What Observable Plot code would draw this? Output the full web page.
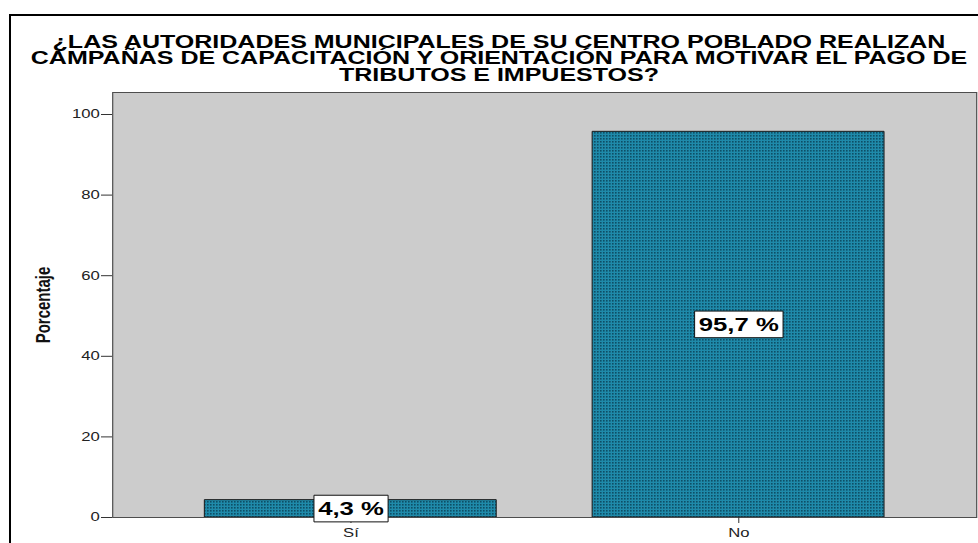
<!DOCTYPE html>
<html>
<head>
<meta charset="utf-8">
<script src="https://cdn.jsdelivr.net/npm/d3@7"></script>
<script src="https://cdn.jsdelivr.net/npm/@observablehq/plot@0.6"></script>
<style>
  html, body { margin: 0; padding: 0; background: white; overflow: hidden; }
</style>
</head>
<body>
<script>
// ---- data ----
const categories = ["Sí", "No"];
const percentages = [4.3, 95.7];
const valueLabels = ["4,3 %", "95,7 %"];
const yTicks = [0, 20, 40, 60, 80, 100];
const yLabel = "Porcentaje";
const titleLines = [
  "¿LAS AUTORIDADES MUNICIPALES DE SU CENTRO POBLADO REALIZAN",
  "CAMPAÑAS DE CAPACITACIÓN Y ORIENTACIÓN PARA MOTIVAR EL PAGO DE",
  "TRIBUTOS E IMPUESTOS?"
];

// ---- layout (the reference is horizontally stretched) ----
const K = 1.39;
const W = 978 / K, H = 543;

const data = categories.map((c, i) => ({cat: c, pct: percentages[i], label: valueLabels[i]}));

const plot = Plot.plot({
  width: W,
  height: H,
  marginLeft: 112 / K,
  marginRight: 2 / K,
  marginTop: 92,
  marginBottom: 26,
  style: {fontFamily: "'Liberation Sans', Arial, sans-serif", background: "white", color: "#222", overflow: "visible"},
  x: {domain: categories, paddingInner: 0.247, paddingOuter: 0.234},
  y: {domain: [0, 105.46]},
  marks: [
    Plot.frame({fill: "#cccccc", stroke: "none"}),
    Plot.barY(data, {x: "cat", y: "pct", fill: "url(#dots)", stroke: "#1a1a1a", strokeWidth: 1}),
    Plot.frame({stroke: "#4d4d4d", strokeWidth: 1.2}),
    Plot.axisY({ticks: yTicks, tickSize: 11 / K, tickPadding: 2 / K, fontSize: 12, stroke: "#333",
      label: yLabel, labelAnchor: "center", labelArrow: false, labelOffset: 56}),
    Plot.axisX({tickSize: 6, tickPadding: 5, fontSize: 12, stroke: "#333", label: null}),
    Plot.text(data, {x: "cat", y: d => d.pct / 2, text: "label", fontSize: 18.5, fontWeight: "bold",
      fill: "black", className: "bar-label"})
  ]
});

plot.setAttribute("width", 978);
plot.setAttribute("height", 543);
plot.setAttribute("preserveAspectRatio", "none");
plot.style.width = "978px";
plot.style.height = "543px";
plot.style.maxWidth = "none";
plot.style.display = "block";
document.body.appendChild(plot);

const svg = d3.select(plot);

// dotted fill pattern
const defs = svg.insert("defs", ":first-child");
const pat = defs.append("pattern").attr("id", "dots").attr("patternUnits", "userSpaceOnUse")
  .attr("width", 3 / K).attr("height", 3);
pat.append("rect").attr("width", 3 / K).attr("height", 3).attr("fill", "#1f8aaa");
pat.append("rect").attr("width", 1.6 / K).attr("height", 1.6).attr("fill", "#0d4f66");

// outer border
svg.append("rect").attr("x", 10 / K).attr("y", 15).attr("width", W + 50).attr("height", H + 50)
  .attr("fill", "none").attr("stroke", "black").attr("stroke-width", 2);

// title
const tg = svg.append("g").attr("font-family", "'Liberation Sans', Arial, sans-serif")
  .attr("font-weight", "bold").attr("font-size", 18).attr("text-anchor", "middle").attr("fill", "black");
const baselines = [48, 64, 81];
titleLines.forEach((t, i) => tg.append("text").attr("x", 499 / K).attr("y", baselines[i]).text(t));

// y label style
svg.selectAll('g[aria-label="y-axis label"] text').attr("font-weight", "bold").attr("font-size", 15).attr("fill", "#111");

// boxes behind value labels
svg.selectAll('g.bar-label text').each(function () {
  const b = this.getBBox();
  const padX = 3, padY = 3;
  const r = d3.select(this.parentNode).insert("rect", () => this)
    .attr("x", b.x - padX).attr("y", b.y - padY)
    .attr("width", b.width + 2 * padX).attr("height", b.height + 2 * padY)
    .attr("fill", "white").attr("stroke", "#111").attr("stroke-width", 1);
  const tr = this.getAttribute("transform");
  if (tr) r.attr("transform", tr);
});

plot.querySelectorAll("rect, path, line").forEach(e => e.setAttribute("vector-effect", "non-scaling-stroke"));
</script>
</body>
</html>
